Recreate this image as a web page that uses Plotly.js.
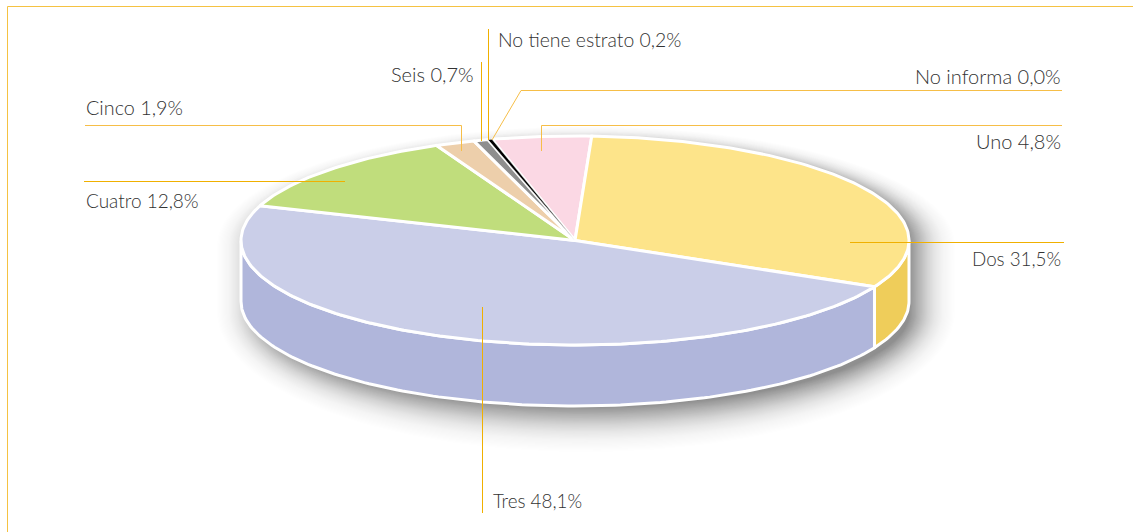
<!DOCTYPE html>
<html><head><meta charset="utf-8">
<script src="https://cdn.plot.ly/plotly-3.0.1.min.js"></script>
<style>html,body{margin:0;padding:0;background:#fff}#c{width:1133px;height:532px}</style>
</head><body><div id="c"></div>
<script>
// Data, clockwise from the start of the first slice
const categories = ['Uno','Dos','Tres','Cuatro','Cinco','Seis','No tiene estrato','No informa'];
const values = [4.8,31.5,48.1,12.8,1.9,0.7,0.2,0.0];
const topColors = ['#FBD8E4','#FDE48A','#CACEE8','#C0DD7C','#EDCFAB','#8E8E8E','#000000','#000000'];
const wallColors = ['#E8BECB','#EFCD5A','#B0B6DB','#A5C265','#D6B88F','#777777','#000000','#000000'];

// Geometry of the drawing
const cx=575, cy=240.5, rx=334, ry=104.5, depth=61, startAngle=-14.4;
const rim='#FFFFFF', rimW=3;

const rad=a=>a*Math.PI/180;
const px=(a,k=0)=>cx+(rx+k)*Math.sin(rad(a));
const py=(a,k=0,dy=0)=>cy-(ry+k)*Math.cos(rad(a))+dy;
function arc(a,b,dy=0){const xs=[],ys=[];const n=Math.max(2,Math.ceil(Math.abs(b-a)));
  for(let i=0;i<=n;i++){const t=a+(b-a)*i/n;xs.push(px(t));ys.push(py(t,0,dy));}return [xs,ys];}

const traces=[];
// soft shadow: stacked translucent silhouettes, fainter towards the outside
const nS=44;
for(let i=0;i<nS;i++){
  const t=i/(nS-1), d=-10+50*(1-t);
  const alpha=0.0014+0.026*Math.pow(t,1.6);
  const xs=[],ys=[];
  for(let a=-90;a<=90;a+=2){xs.push(px(a,d)+11);ys.push(py(a,d*0.4,4));}
  for(let a=90;a<=270;a+=2){xs.push(px(a,d)+11);ys.push(py(a,d,depth+11));}
  traces.push({type:'scatter',mode:'lines',x:xs,y:ys,fill:'toself',fillcolor:'rgba(0,0,0,'+alpha.toFixed(4)+')',line:{width:0},hoverinfo:'skip',showlegend:false});
}
// slice angles
const total=values.reduce((s,v)=>s+v,0);
let acc=startAngle;
const slices=categories.map((c,i)=>{const a=acc,b=acc+values[i]/total*360;acc=b;return {c,a,b,i,v:values[i]};});
// side walls (only the front half, 90..270 degrees, is visible)
slices.forEach(s=>{
  const a=Math.max(s.a,90), b=Math.min(s.b,270);
  if(b<=a) return;
  const [x1,y1]=arc(a,b,0), [x2,y2]=arc(b,a,depth);
  traces.push({type:'scatter',mode:'lines',x:x1.concat(x2,[x1[0]]),y:y1.concat(y2,[y1[0]]),fill:'toself',
    fillcolor:wallColors[s.i],line:{color:rim,width:rimW},hoverinfo:'skip',showlegend:false});
});
// top face
slices.forEach(s=>{
  if(s.v<=0) return;
  const [x,y]=arc(s.a,s.b,0);
  traces.push({type:'scatter',mode:'lines',name:s.c,x:[cx].concat(x,[cx]),y:[cy].concat(y,[cy]),fill:'toself',
    fillcolor:topColors[s.i],line:{color:s.v<0.5?'rgba(255,255,255,0.6)':rim,width:s.v<0.5?0.8:rimW,join:'miter'},hoverinfo:'name',showlegend:false});
});

// Labels and leader lines
const fmt=i=>categories[i]+' '+values[i].toFixed(1).replace('.',',')+'%';
const labelPos=[
 [1063,141,'right',20],[1063,258,'right',18.8],[491,500,'left',18.8],[84,200,'left',19],
 [84,107,'left',19.8],[389,74,'left',20],[496,39,'left',19.4],[1063,76,'right',20]];
const annotations=labelPos.map((p,i)=>({xref:'x',yref:'y',x:p[0],y:p[1],text:fmt(i),showarrow:false,
  xanchor:p[2],yanchor:'middle',font:{family:'Lato',weight:300,size:p[3],color:'#333333'}}));

const leaderA='#F0B000', leaderB='#F6BE48';
const leaders=[
 ['M541.5,151 L541.5,125.5 L1062,125.5',leaderB],
 ['M850,242.5 L1064,242.5',leaderA],
 ['M482.5,307 L482.5,513',leaderA],
 ['M84,181.5 L345,181.5',leaderA],
 ['M85,125.5 L461.5,125.5 L461.5,151',leaderB],
 ['M481.5,62 L481.5,141',leaderA],
 ['M488.5,29 L488.5,140',leaderA],
 ['M492,140 L521,90.5 L1062,90.5',leaderB]];
const shapes=leaders.map(l=>({type:'path',xref:'x',yref:'y',path:l[0],line:{color:l[1],width:1},layer:'above'}));
shapes.push({type:'path',xref:'x',yref:'y',path:'M7.5,532 L7.5,6.5 L1133,6.5',line:{color:'#F5C242',width:1},layer:'above'});

Plotly.newPlot('c',traces,{
  width:1133,height:532,margin:{l:0,r:0,t:0,b:0},paper_bgcolor:'#fff',plot_bgcolor:'#fff',
  xaxis:{range:[0,1133],visible:false,fixedrange:true},
  yaxis:{range:[532,0],visible:false,fixedrange:true},
  showlegend:false,shapes,annotations
},{displayModeBar:false});
</script></body></html>
